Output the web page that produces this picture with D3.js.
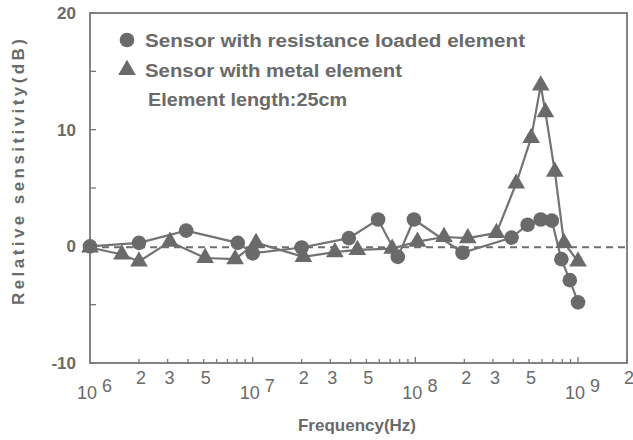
<!DOCTYPE html>
<html>
<head>
<meta charset="utf-8">
<script src="https://cdn.jsdelivr.net/npm/d3@7"></script>
<style>
  body { margin: 0; background: #fff; }
  text { font-family: "Liberation Sans", Arial, sans-serif; font-weight: bold; fill: #6a6a6a; }
</style>
</head>
<body>
<div id="chart"></div>
<script>
// resistance loaded element (circles)
var resFreq = [1e6, 2e6, 3.9e6, 8.1e6, 1.0e7, 2.0e7, 3.9e7, 5.9e7, 7.8e7, 9.8e7, 1.95e8, 3.9e8, 4.9e8, 5.9e8, 6.9e8, 7.9e8, 8.9e8, 1.0e9];
var resVal  = [0, 0.3, 1.35, 0.3, -0.6, -0.1, 0.7, 2.3, -0.9, 2.3, -0.55, 0.75, 1.85, 2.3, 2.2, -1.1, -2.9, -4.8];

// metal element (triangles)
var metalFreq = [1e6, 1.57e6, 2e6, 3.1e6, 5.1e6, 7.8e6, 1.05e7, 2.05e7, 3.2e7, 4.4e7, 7.2e7, 1.03e8, 1.5e8, 2.1e8, 3.15e8, 4.17e8, 5.15e8, 5.9e8, 6.3e8, 7.2e8, 8.2e8, 1.0e9];
var metalVal  = [-0.1, -0.7, -1.3, 0.4, -1.0, -1.1, 0.3, -0.9, -0.5, -0.3, -0.2, 0.4, 0.8, 0.7, 1.15, 5.4, 9.3, 13.8, 11.5, 6.4, 0.3, -1.3];

var yTicks = [-10, -5, 0, 5, 10, 15, 20];
var yLabels = [-10, 0, 10, 20];
var decades = [6, 7, 8, 9];
var minorLabels = [2, 3, 5];
var legendItems = ["Sensor with resistance loaded element", "Sensor with metal element"];
var noteText = "Element length:25cm";

var W = 633, H = 440;
var grey = "#6a6a6a";

var svg = d3.select("#chart").append("svg")
  .attr("width", W).attr("height", H);

var x = d3.scaleLog().domain([1e6, 2e9]).range([90, 627]);
var y = d3.scaleLinear().domain([-10, 20]).range([363, 13]);

// frame
svg.append("rect")
  .attr("x", x(1e6)).attr("y", y(20))
  .attr("width", x(2e9) - x(1e6)).attr("height", y(-10) - y(20))
  .attr("fill", "none").attr("stroke", "#777").attr("stroke-width", 1.8);

// zero reference (dashed)
svg.append("line")
  .attr("x1", x(1e6)).attr("x2", x(2e9))
  .attr("y1", y(0) + 1).attr("y2", y(0) + 1)
  .attr("stroke", "#6e6e6e").attr("stroke-width", 2)
  .attr("stroke-dasharray", "7,5");

// y ticks (inward)
svg.selectAll(".yt").data(yTicks).enter().append("line")
  .attr("x1", x(1e6)).attr("x2", x(1e6) + 6)
  .attr("y1", function(d){ return y(d); }).attr("y2", function(d){ return y(d); })
  .attr("stroke", "#777").attr("stroke-width", 1.3);

svg.selectAll(".yl").data(yLabels).enter().append("text")
  .attr("x", 76).attr("y", function(d){ return y(d) + 6; })
  .attr("text-anchor", "end").style("font-size", "17px")
  .text(function(d){ return d; });

// x ticks: all 1..9 per decade, plus 2e9
var xTicks = [];
decades.forEach(function(e) {
  for (var m = 1; m <= 9; m++) {
    var v = m * Math.pow(10, e);
    if (v > 1e6 && v <= 2e9) xTicks.push({v: v, major: m == 1});
  }
});
xTicks.push({v: 2e9, major: false});

svg.selectAll(".xt").data(xTicks).enter().append("line")
  .attr("x1", function(d){ return x(d.v); }).attr("x2", function(d){ return x(d.v); })
  .attr("y1", y(-10)).attr("y2", function(d){ return y(-10) - (d.major ? 6 : 4); })
  .attr("stroke", "#777").attr("stroke-width", 1.3);

// minor labels 2 3 5
var minorPos = [];
decades.slice(0, 3).forEach(function(e) {
  minorLabels.forEach(function(m) { minorPos.push({v: m * Math.pow(10, e), t: m}); });
});
minorPos.push({v: 2e9, t: 2});

svg.selectAll(".xl").data(minorPos).enter().append("text")
  .attr("x", function(d){ return x(d.v) + 2; }).attr("y", 384)
  .attr("text-anchor", "middle").style("font-size", "18px").style("font-weight", "normal")
  .text(function(d){ return d.t; });

// decade labels 10^n
var dl = svg.selectAll(".dl").data(decades).enter().append("text")
  .attr("x", function(d){ return x(Math.pow(10, d)) - 13; }).attr("y", 399)
  .style("font-size", "18px").style("font-weight", "normal");
dl.append("tspan").text("10");
dl.append("tspan").attr("dx", 5).attr("dy", -7).text(function(d){ return d; });

// axis titles
svg.append("text")
  .attr("x", 357).attr("y", 431).attr("text-anchor", "middle")
  .style("font-size", "17px").text("Frequency(Hz)");

svg.append("text")
  .attr("transform", "translate(24,172) rotate(-90)")
  .attr("text-anchor", "middle").style("font-size", "17px")
  .attr("textLength", 266).attr("lengthAdjust", "spacing")
  .text("Relative sensitivity(dB)");

// series
var res = resFreq.map(function(f, i){ return [f, resVal[i]]; });
var metal = metalFreq.map(function(f, i){ return [f, metalVal[i]]; });

var line = d3.line().x(function(d){ return x(d[0]); }).y(function(d){ return y(d[1]); });

svg.append("path").datum(res).attr("d", line)
  .attr("fill", "none").attr("stroke", "#737373").attr("stroke-width", 2.2);
svg.append("path").datum(metal).attr("d", line)
  .attr("fill", "none").attr("stroke", "#737373").attr("stroke-width", 2.2);

var tri = d3.symbol().type(d3.symbolTriangle).size(135);

svg.selectAll(".mt").data(metal).enter().append("path")
  .attr("d", tri)
  .attr("transform", function(d){ return "translate(" + x(d[0]) + "," + y(d[1]) + ")"; })
  .attr("fill", grey);

svg.selectAll(".rc").data(res).enter().append("circle")
  .attr("cx", function(d){ return x(d[0]); }).attr("cy", function(d){ return y(d[1]); })
  .attr("r", 7.3).attr("fill", grey);

// legend
var legendLen = [380, 257];
svg.append("circle").attr("cx", 127).attr("cy", 40).attr("r", 7.3).attr("fill", grey);
svg.append("path").attr("d", tri).attr("transform", "translate(127,70)").attr("fill", grey);
svg.selectAll(".lg").data(legendItems).enter().append("text")
  .attr("x", 145).attr("y", function(d, i){ return 47 + i * 30; })
  .style("font-size", "18px")
  .attr("textLength", function(d, i){ return legendLen[i]; }).attr("lengthAdjust", "spacingAndGlyphs")
  .text(function(d){ return d; });
svg.append("text").attr("x", 148).attr("y", 106)
  .style("font-size", "18px")
  .attr("textLength", 199).attr("lengthAdjust", "spacingAndGlyphs")
  .text(noteText);
</script>
</body>
</html>
